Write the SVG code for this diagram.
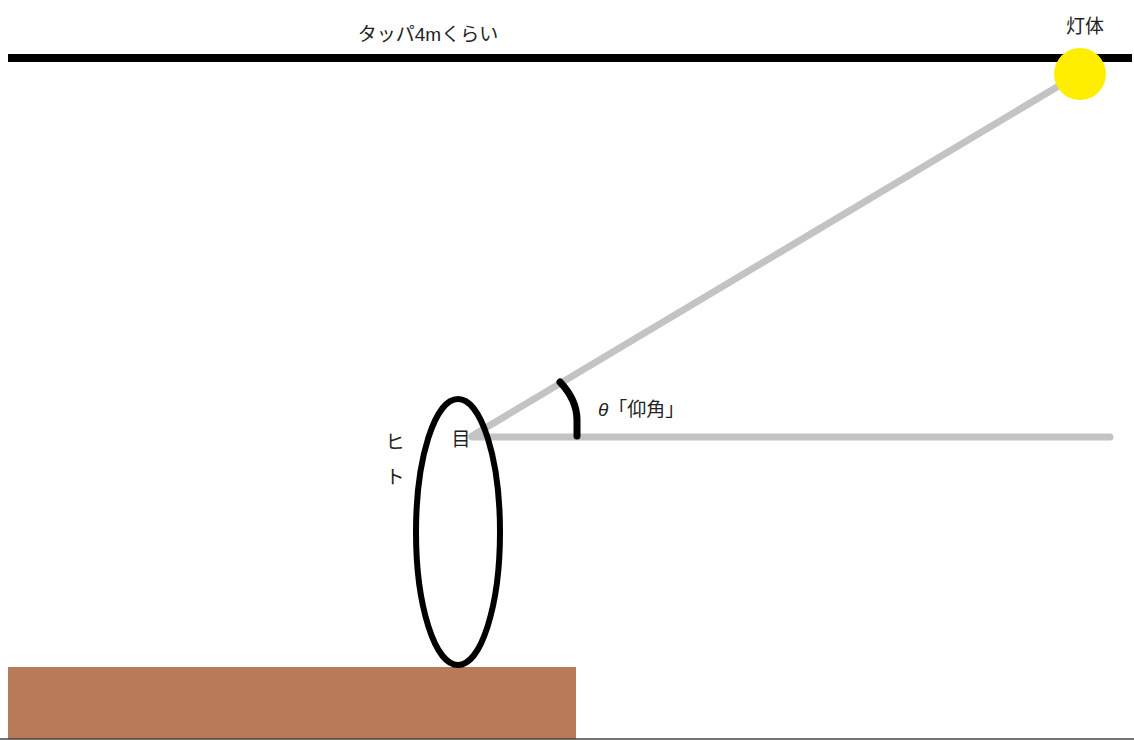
<svg xmlns="http://www.w3.org/2000/svg" width="1134" height="740" viewBox="0 0 1134 740">
<style>
.t{font-family:"Liberation Sans","Noto Sans CJK JP",sans-serif;font-size:19px;fill:#222}
.ray{stroke:#c3c3c3;stroke-width:7;stroke-linecap:round;fill:none}
.ink{stroke:#000;fill:none}
</style>
<rect width="1134" height="740" fill="#fff"/>
<g id="ceiling">
<line class="ink" x1="8" y1="58" x2="1132" y2="58" stroke-width="8"/>
<text class="t" x="428" y="41" text-anchor="middle">タッパ4mくらい</text>
</g>
<g id="floor">
<rect x="8" y="667" width="568" height="72" fill="#b87a57"/>
<line x1="0" y1="739" x2="1134" y2="739" stroke="#444" stroke-width="1.5"/>
</g>
<g id="connectors">
<line class="ray" x1="472" y1="436" x2="1062" y2="84"/>
<line class="ray" x1="472" y1="437" x2="1110" y2="437"/>
<path class="ink" d="M560,382 Q577,400 577,420 L577,436" stroke-width="7" stroke-linecap="round"/>
</g>
<g id="lamp">
<circle cx="1080" cy="74" r="26" fill="#ffee00"/>
<text class="t" x="1085" y="33" text-anchor="middle">灯体</text>
</g>
<g id="person">
<ellipse cx="458" cy="532" rx="42" ry="133" fill="none" stroke="#000" stroke-width="6"/>
<text class="t" x="461" y="446" text-anchor="middle" font-size="17">目</text>
<text class="t" x="395" y="449" text-anchor="middle">ヒ</text>
<text class="t" x="395" y="484" text-anchor="middle">ト</text>
</g>
<g id="angle-label">
<text class="t" x="598" y="416"><tspan font-style="italic">θ</tspan>「仰角」</text>
</g>
</svg>
